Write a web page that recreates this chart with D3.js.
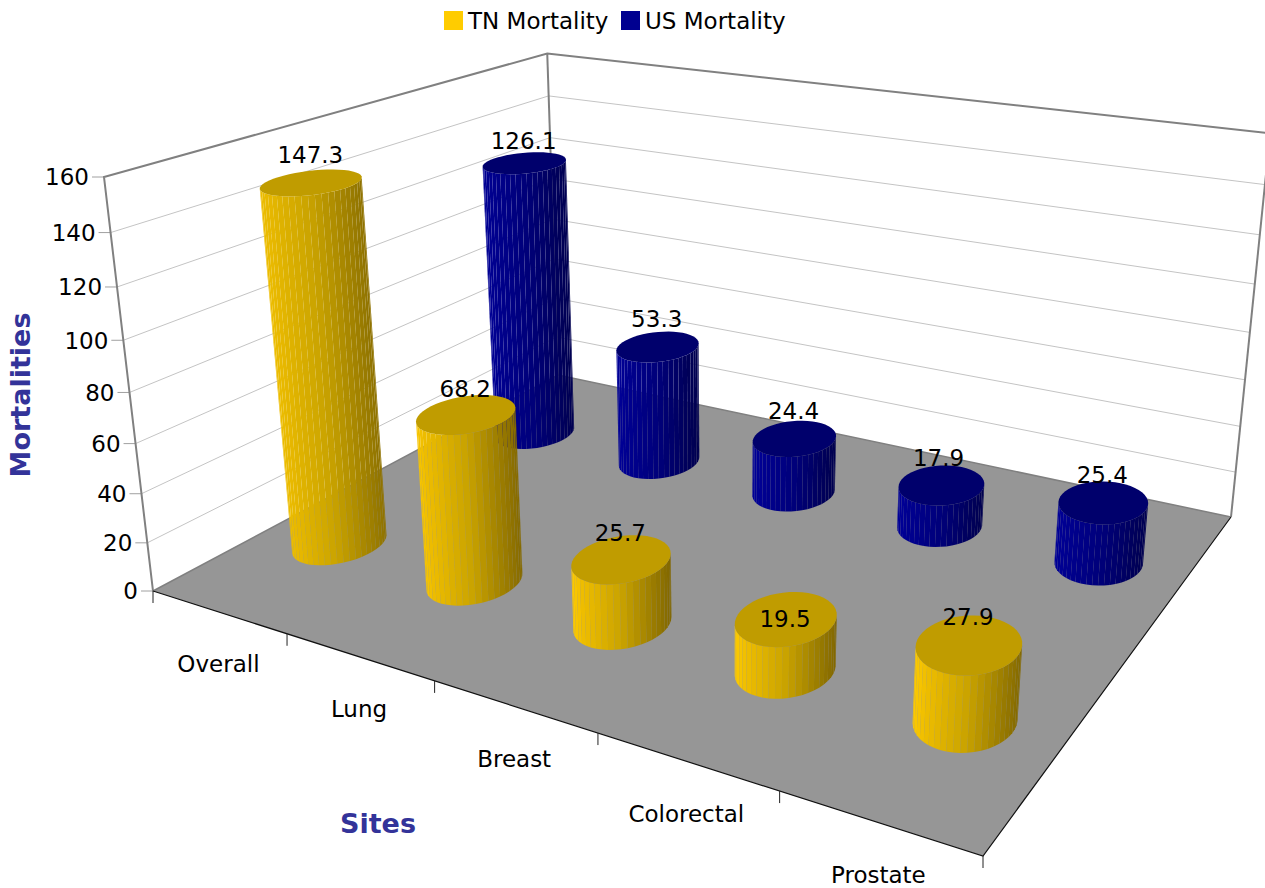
<!DOCTYPE html>
<html>
<head>
<meta charset="utf-8">
<script src="https://cdnjs.cloudflare.com/ajax/libs/d3/7.8.5/d3.min.js"></script>
<style>
body { margin: 0; background: white; overflow: hidden; }
svg { display: block; }
text { font-family: "DejaVu Sans", sans-serif; fill: #000; }
</style>
</head>
<body>
<div id="chart"></div>
<script>
var categories = ['Overall', 'Lung', 'Breast', 'Colorectal', 'Prostate'];
var seriesNames = ['TN Mortality', 'US Mortality'];
var tnValues = [147.3, 68.2, 25.7, 19.5, 27.9];
var usValues = [126.1, 53.3, 24.4, 17.9, 25.4];
var valueTicks = [0, 20, 40, 60, 80, 100, 120, 140, 160];

var width = 1265, height = 888;

// screen position of the box corners, everything else goes through project()
var floorA = [153, 591], floorB = [983, 856], floorC = [1231, 517], floorD = [558, 375];
var topA = [104, 177], topC = [1270, 135];

var H = floor_homography(floorA, floorB, floorC, floorD);
var vp = intersect(floorA, topA, floorC, topC);
var vs = (topA[1] - floorA[1]) / (vp[1] - topA[1]);

// model scales, all of them end up in the unit cube
var uScale = d3.scaleBand().domain(categories).range([0, 1]);
var vScale = d3.scaleBand().domain(seriesNames).range([0, 1]);
var wScale = d3.scaleLinear().domain([0, 160]).range([0, 1]);

var svg = d3.select('#chart').append('svg')
    .attr('width', width)
    .attr('height', height);

var line = d3.line();
var facets = 48;
var radiusU = 0.049, radiusV = 0.078;
var fontSize = '23px';

// how far a value label sits from the middle of its cylinder top [dx, lift]
var labelDefault = [-1, 28];
var labelNudge = { '126.1': [-1, 22], '19.5': [-1, 0], '17.9': [-3, 27], '68.2': [-1, 26], '25.7': [-1, 26] };

var themes = {
    'TN Mortality': {
        swatch: '#ffcc00', top: '#c09c00',
        shade: d3.scaleLinear().domain([0, 0.12, 0.5, 1]).range(['#ffcc00', '#eebd00', '#c9a300', '#806600'])
    },
    'US Mortality': {
        swatch: '#000090', top: '#00006c',
        shade: d3.scaleLinear().domain([0, 0.12, 0.5, 1]).range(['#000099', '#000090', '#00007a', '#00004d'])
    }
};

draw_walls();
draw_floor();
draw_axis_labels();
draw_series('US Mortality', usValues);
draw_series('TN Mortality', tnValues);
draw_value_labels('US Mortality', usValues);
draw_value_labels('TN Mortality', tnValues);
draw_legend();

// homography of the unit square on to four screen points
function floor_homography(p0, p1, p2, p3) {
    var dx1 = p1[0] - p2[0], dx2 = p3[0] - p2[0], sx = p0[0] - p1[0] + p2[0] - p3[0];
    var dy1 = p1[1] - p2[1], dy2 = p3[1] - p2[1], sy = p0[1] - p1[1] + p2[1] - p3[1];
    var den = dx1 * dy2 - dx2 * dy1;
    var g = (sx * dy2 - dx2 * sy) / den;
    var h = (dx1 * sy - sx * dy1) / den;
    return {
        a: p1[0] - p0[0] + g * p1[0], b: p3[0] - p0[0] + h * p3[0], c: p0[0],
        d: p1[1] - p0[1] + g * p1[1], e: p3[1] - p0[1] + h * p3[1], f: p0[1],
        g: g, h: h
    };
}

function intersect(p1, p2, p3, p4) {
    var d = (p1[0] - p2[0]) * (p3[1] - p4[1]) - (p1[1] - p2[1]) * (p3[0] - p4[0]);
    var a = p1[0] * p2[1] - p1[1] * p2[0];
    var b = p3[0] * p4[1] - p3[1] * p4[0];
    return [
        (a * (p3[0] - p4[0]) - (p1[0] - p2[0]) * b) / d,
        (a * (p3[1] - p4[1]) - (p1[1] - p2[1]) * b) / d
    ];
}

function project(u, v, w) {
    var q = H.g * u + H.h * v + 1 + vs * w;
    return [
        (H.a * u + H.b * v + H.c + vs * vp[0] * w) / q,
        (H.d * u + H.e * v + H.f + vs * vp[1] * w) / q
    ];
}

function draw_walls() {
    var grid = svg.append('g').attr('class', 'grid');

    valueTicks.forEach(function(t) {
        var w = wScale(t);
        if (t > 0 && t < 160) {
            grid.append('path')
                .attr('d', line([project(0, 0, w), project(0, 1, w), project(1, 1, w)]))
                .attr('fill', 'none')
                .attr('stroke', '#c4c4c4')
                .attr('stroke-width', 1);
        }
        // tick and label on the left axis
        var p = project(0, 0, w);
        grid.append('line')
            .attr('x1', p[0] - 12).attr('y1', p[1])
            .attr('x2', p[0]).attr('y2', p[1])
            .attr('stroke', '#a0a0a0');
        grid.append('text')
            .attr('x', p[0] - 15)
            .attr('y', p[1])
            .attr('dy', '0.36em')
            .style('text-anchor', 'end')
            .style('font-size', fontSize)
            .text(t);
    });
}

function draw_floor() {
    svg.append('path')
        .attr('d', line([project(0, 0, 0), project(1, 0, 0), project(1, 1, 0), project(0, 1, 0)]) + 'Z')
        .attr('fill', '#969696');

    // frame of the box
    var frame = [
        [project(0, 0, 0), project(0, 0, 1), project(0, 1, 1), project(1, 1, 1)],
        [project(0, 1, 1), project(0, 1, 0)],
        [project(1, 1, 1), project(1, 1, 0)]
    ];
    frame.forEach(function(d) {
        svg.append('path')
            .attr('d', line(d))
            .attr('fill', 'none')
            .attr('stroke', '#808080')
            .attr('stroke-width', 2);
    });
    svg.append('path')
        .attr('d', line([project(0, 0, 0), project(0, 1, 0), project(1, 1, 0)]))
        .attr('fill', 'none')
        .attr('stroke', '#808080')
        .attr('stroke-width', 1.5);

    svg.append('path')
        .attr('d', line([project(0, 0, 0), project(1, 0, 0), project(1, 1, 0)]))
        .attr('fill', 'none')
        .attr('stroke', '#111')
        .attr('stroke-width', 1.2);
}

function draw_axis_labels() {
    var edges = uScale.domain().map(function(c) { return uScale(c); }).concat([1]);
    edges.forEach(function(u) {
        var p = project(u, 0, 0);
        svg.append('line')
            .attr('x1', p[0]).attr('y1', p[1])
            .attr('x2', p[0]).attr('y2', p[1] + 12)
            .attr('stroke', '#222');
    });

    categories.forEach(function(c) {
        var p = project(uScale(c) + uScale.bandwidth() / 2, 0, 0);
        svg.append('text')
            .attr('x', p[0])
            .attr('y', p[1] + 52)
            .attr('dy', '0.36em')
            .style('text-anchor', 'middle')
            .style('font-size', fontSize)
            .text(c);
    });

    svg.append('text')
        .attr('x', 378)
        .attr('y', 823)
        .attr('dy', '0.36em')
        .style('text-anchor', 'middle')
        .style('font-size', '27px')
        .style('font-weight', 'bold')
        .style('fill', '#333399')
        .text('Sites');

    svg.append('text')
        .attr('transform', 'translate(20,395) rotate(-90)')
        .attr('dy', '0.36em')
        .style('text-anchor', 'middle')
        .style('font-size', '27px')
        .style('font-weight', 'bold')
        .style('fill', '#333399')
        .text('Mortalities');
}

function circle_points(u, v, w) {
    return d3.range(facets).map(function(i) {
        var a = i / facets * 2 * Math.PI;
        return project(u + radiusU * Math.cos(a), v + radiusV * Math.sin(a), w);
    });
}

function draw_cylinder(g, u, v, w, theme) {
    var base = circle_points(u, v, 0);
    var top = circle_points(u, v, w);
    var xs = base.concat(top).map(function(p) { return p[0]; });
    var x0 = d3.min(xs), x1 = d3.max(xs);

    d3.range(facets).forEach(function(i) {
        var j = (i + 1) % facets;
        var quad = [base[i], base[j], top[j], top[i]];
        // only the facets turned towards the viewer
        if (d3.polygonArea(quad) < 0) return;
        var mid = (base[i][0] + base[j][0] + top[i][0] + top[j][0]) / 4;
        g.append('path')
            .attr('d', line(quad) + 'Z')
            .attr('fill', theme.shade((mid - x0) / (x1 - x0)));
    });

    g.append('path')
        .attr('d', line(top) + 'Z')
        .attr('fill', theme.top);
}

function draw_series(name, values) {
    var g = svg.append('g').attr('class', 'series');
    values.forEach(function(d, i) {
        var u = uScale(categories[i]) + uScale.bandwidth() / 2;
        var v = vScale(name) + vScale.bandwidth() / 2;
        draw_cylinder(g, u, v, wScale(d), themes[name]);
    });
}

function draw_value_labels(name, values) {
    values.forEach(function(d, i) {
        var u = uScale(categories[i]) + uScale.bandwidth() / 2;
        var v = vScale(name) + vScale.bandwidth() / 2;
        var p = project(u, v, wScale(d));
        var nudge = labelNudge[d] || labelDefault;
        svg.append('text')
            .attr('x', p[0] + nudge[0])
            .attr('y', p[1] - nudge[1])
            .attr('dy', '0.36em')
            .style('text-anchor', 'middle')
            .style('font-size', fontSize)
            .text(d);
    });
}

function draw_legend() {
    var items = [
        { name: seriesNames[0], x: 444 },
        { name: seriesNames[1], x: 621 }
    ];
    items.forEach(function(item) {
        svg.append('rect')
            .attr('x', item.x)
            .attr('y', 11)
            .attr('width', 19)
            .attr('height', 19)
            .attr('fill', themes[item.name].swatch);
        svg.append('text')
            .attr('x', item.x + 24)
            .attr('y', 21)
            .attr('dy', '0.36em')
            .style('font-size', fontSize)
            .text(item.name);
    });
}
</script>
</body>
</html>
